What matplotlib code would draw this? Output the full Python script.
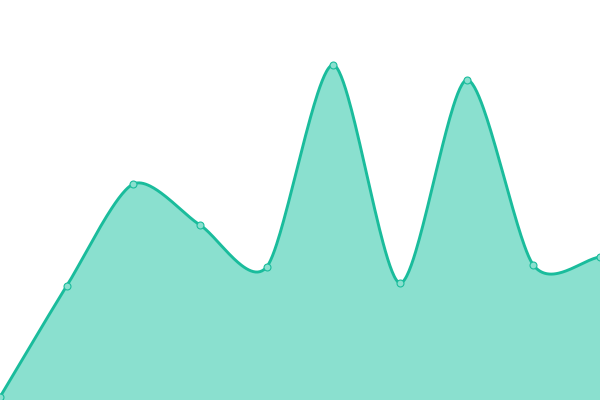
import numpy as np
import matplotlib
matplotlib.use('Agg')
import matplotlib.pyplot as plt

# 데이터
x_vals = np.arange(10)
y_vals = [3, 114, 216, 175, 133, 335, 117, 320, 135, 143]

line_color = '#1abc9c'
fill_color = '#8ae0cf'

# 카디널 스플라인 보간 (부드러운 곡선)
def cardinal(x, y, k=0.4, n=60):
    x = np.asarray(x, dtype=float)
    y = np.asarray(y, dtype=float)
    px = np.concatenate([[2 * x[0] - x[1]], x, [2 * x[-1] - x[-2]]])
    py = np.concatenate([[2 * y[0] - y[1]], y, [2 * y[-1] - y[-2]]])
    xs, ys = [], []
    t = np.linspace(0, 1, n)
    h00 = 2 * t**3 - 3 * t**2 + 1
    h10 = t**3 - 2 * t**2 + t
    h01 = -2 * t**3 + 3 * t**2
    h11 = t**3 - t**2
    for i in range(1, len(px) - 2):
        mx0 = (px[i + 1] - px[i - 1]) * k
        mx1 = (px[i + 2] - px[i]) * k
        my0 = (py[i + 1] - py[i - 1]) * k
        my1 = (py[i + 2] - py[i]) * k
        xs.append(h00 * px[i] + h10 * mx0 + h01 * px[i + 1] + h11 * mx1)
        ys.append(h00 * py[i] + h10 * my0 + h01 * py[i + 1] + h11 * my1)
    return np.concatenate(xs), np.concatenate(ys)

sx, sy = cardinal(x_vals, y_vals)

fig = plt.figure(figsize=(6, 4), dpi=100)
ax = fig.add_axes([0, 0, 1, 1])
ax.fill_between(sx, sy, 0, color=fill_color, linewidth=0)
ax.plot(sx, sy, color=line_color, linewidth=2.1, solid_capstyle='round', zorder=3)
ax.plot(x_vals, y_vals, 'o', markersize=5, markerfacecolor=fill_color,
        markeredgecolor=line_color, markeredgewidth=0.8, zorder=4, clip_on=False)
ax.set_xlim(0, 9)
ax.set_ylim(0, 400)
ax.axis('off')
fig.savefig('out.png', dpi=100)
